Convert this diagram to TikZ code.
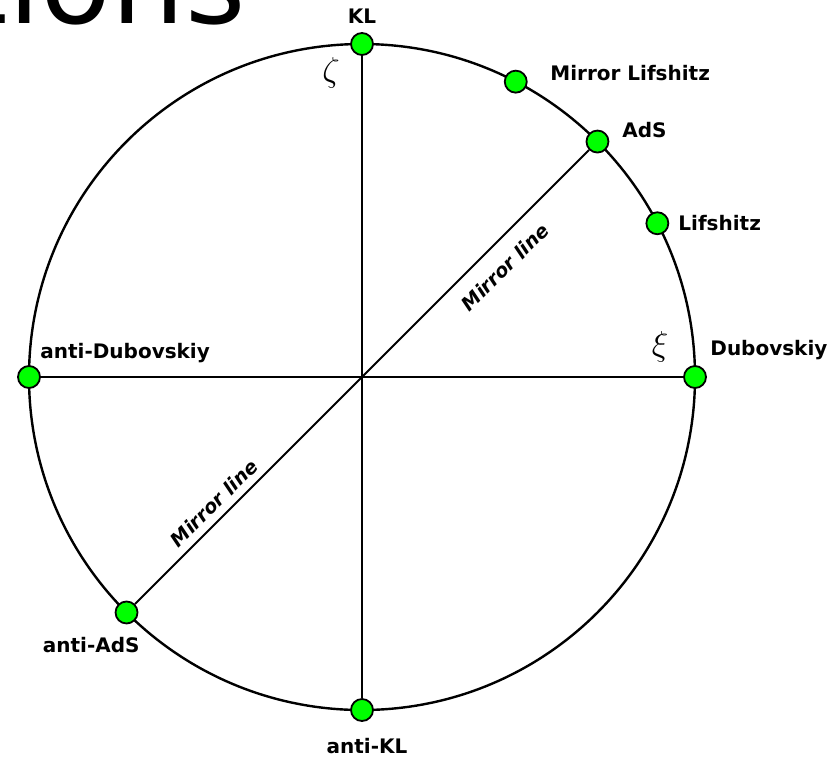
\documentclass[tikz,border=0pt]{standalone}
\usepackage{fontspec}
\setmainfont{DejaVu Sans}
\usepackage{amsmath}
\usepackage{xcolor}
\usetikzlibrary{positioning}
\definecolor{dotgreen}{RGB}{0,255,0}
\newcommand{\circrad}{333}

\begin{document}
\begin{tikzpicture}[x=0.5pt,y=0.5pt]
\tikzstyle{every node}=[font=\fontsize{10}{12}\selectfont\bfseries,inner sep=0pt]
\tikzstyle{soldot}=[circle,draw,line width=0.9pt,fill=dotgreen,minimum size=11pt,inner sep=0pt]
\tikzstyle{greek}=[font=\fontsize{18}{20}\selectfont]
\tikzstyle{mirror}=[font=\fontsize{9.6}{12}\selectfont\bfseries\itshape,rotate=45]
\useasboundingbox (-362,-380) rectangle (477,377);
% title of the slide, cut by the frame
\begin{scope}
\clip (-362,-380) rectangle (477,377);
\node[font=\fontsize{58}{60}\selectfont\mdseries,anchor=base east] (title) at (-116,354) {tions};
\end{scope}
\draw[line width=1.2pt] (0,0) circle (\circrad);
\node[soldot] (kl) at (90:\circrad) {};
\node[soldot] (mlif) at (62.5:\circrad) {};
\node[soldot] (ads) at (45:\circrad) {};
\node[soldot] (lif) at (27.5:\circrad) {};
\node[soldot] (dub) at (0:\circrad) {};
\node[soldot] (antidub) at (180:\circrad) {};
\node[soldot] (antiads) at (225:\circrad) {};
\node[soldot] (antikl) at (270:\circrad) {};
\draw[line width=0.9pt] (kl) -- (antikl);
\draw[line width=0.9pt] (antidub) -- (dub);
\draw[line width=0.9pt] (antiads) -- (ads);
\node[anchor=base] (kllbl) at (0,354) {KL};
\node[anchor=base west] (mliflbl) at (188,297) {Mirror Lifshitz};
\node[anchor=base west] (adslbl) at (260,240) {AdS};
\node[anchor=base west] (liflbl) at (316,147) {Lifshitz};
\node[anchor=base west] (dublbl) at (348,22) {Dubovskiy};
\node[anchor=base west] (antidublbl) at (-322,19) {anti-Dubovskiy};
\node[anchor=base east] (antiadslbl) at (-222,-275) {anti-AdS};
\node[anchor=base] (antikllbl) at (5,-376) {anti-KL};
\node[greek] (zeta) at (-31,304) {$\zeta$};
\node[greek] (xi) at (298,30) {$\xi$};
\node[mirror] (mirup) at (143,110) {Mirror line};
\node[mirror] (mirlo) at (-148,-126) {Mirror line};
\end{tikzpicture}
\end{document}
